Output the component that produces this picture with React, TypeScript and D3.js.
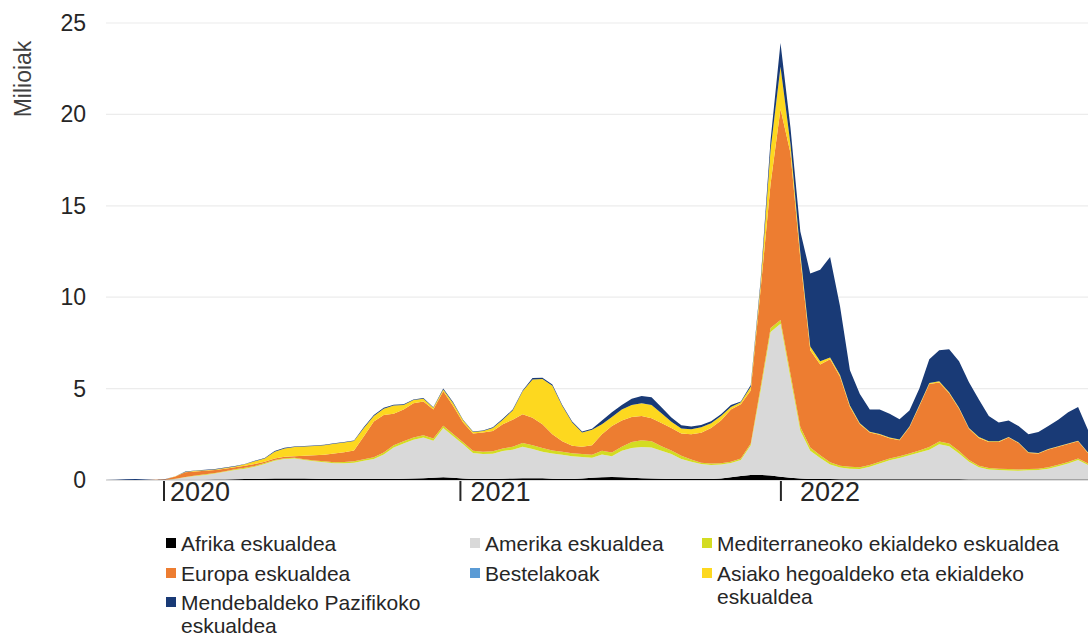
import React from 'react';
import * as d3 from 'd3';

// Weekly new cases (millions) by WHO region
const seriesNames = [
  'Afrika eskualdea',
  'Amerika eskualdea',
  'Mediterraneoko ekialdeko eskualdea',
  'Europa eskualdea',
  'Bestelakoak',
  'Asiako hegoaldeko eta ekialdeko eskualdea',
  'Mendebaldeko Pazifikoko eskualdea',
];

const afrika = [
  0, 0, 0, 0, 0, 0, 0.01, 0.01, 0.01, 0.01,
  0.02, 0.03, 0.03, 0.04, 0.05, 0.06, 0.07, 0.08, 0.08, 0.08,
  0.08, 0.07, 0.06, 0.05, 0.05, 0.05, 0.05, 0.05, 0.06, 0.06,
  0.07, 0.08, 0.1, 0.12, 0.15, 0.12, 0.08, 0.06, 0.06, 0.06,
  0.07, 0.08, 0.09, 0.1, 0.09, 0.07, 0.06, 0.06, 0.08, 0.12,
  0.15, 0.16, 0.15, 0.12, 0.09, 0.08, 0.07, 0.06, 0.06, 0.06,
  0.06, 0.06, 0.08, 0.15, 0.22, 0.27, 0.28, 0.25, 0.18, 0.12,
  0.08, 0.06, 0.05, 0.05, 0.04, 0.04, 0.04, 0.04, 0.04, 0.04,
  0.04, 0.04, 0.04, 0.04, 0.04, 0.04, 0.04, 0.03, 0.03, 0.03,
  0.03, 0.03, 0.03, 0.03, 0.03, 0.03, 0.03, 0.03, 0.03, 0.03,
];

const amerika = [
  0, 0, 0, 0, 0, 0, 0.01, 0.05, 0.14, 0.21,
  0.26, 0.32, 0.42, 0.51, 0.57, 0.66, 0.81, 0.97, 1.07, 1.1,
  1.02, 0.96, 0.91, 0.87, 0.87, 0.9, 1.0, 1.1, 1.34, 1.72,
  1.93, 2.12, 2.23, 2.03, 2.7, 2.28, 1.87, 1.42, 1.36, 1.38,
  1.51, 1.58, 1.73, 1.6, 1.46, 1.38, 1.32, 1.24, 1.18, 1.1,
  1.25, 1.14, 1.45, 1.63, 1.71, 1.7, 1.53, 1.36, 1.09, 0.94,
  0.82, 0.76, 0.77, 0.78, 0.88, 1.63, 4.62, 7.85, 8.37, 5.48,
  2.62, 1.54, 1.15, 0.8, 0.64, 0.58, 0.56, 0.69, 0.86, 1.04,
  1.16, 1.31, 1.46, 1.61, 1.91, 1.81, 1.41, 0.97, 0.67, 0.55,
  0.52, 0.49, 0.48, 0.5, 0.52, 0.59, 0.72, 0.87, 1.07, 0.79,
];

const mediterraneo = [
  0, 0, 0, 0, 0, 0, 0, 0.01, 0.02, 0.03,
  0.03, 0.03, 0.03, 0.04, 0.05, 0.05, 0.05, 0.04, 0.04, 0.04,
  0.04, 0.04, 0.05, 0.05, 0.06, 0.07, 0.08, 0.1, 0.1, 0.12,
  0.12, 0.12, 0.12, 0.12, 0.12, 0.12, 0.12, 0.12, 0.13, 0.13,
  0.14, 0.16, 0.2, 0.2, 0.2, 0.17, 0.17, 0.17, 0.16, 0.16,
  0.2, 0.2, 0.22, 0.33, 0.38, 0.34, 0.25, 0.2, 0.17, 0.12,
  0.07, 0.08, 0.07, 0.07, 0.08, 0.1, 0.2, 0.22, 0.2, 0.22,
  0.2, 0.18, 0.15, 0.12, 0.1, 0.1, 0.1, 0.09, 0.1, 0.1,
  0.1, 0.1, 0.12, 0.15, 0.15, 0.15, 0.13, 0.1, 0.08, 0.07,
  0.07, 0.08, 0.07, 0.07, 0.07, 0.08, 0.08, 0.08, 0.08, 0.08,
];

const europa = [
  0, 0, 0, 0, 0, 0.01, 0.02, 0.12, 0.25, 0.22,
  0.19, 0.17, 0.14, 0.11, 0.11, 0.11, 0.07, 0.08, 0.08, 0.08,
  0.19, 0.28, 0.36, 0.48, 0.54, 0.6, 1.27, 1.95, 2.05, 1.72,
  1.73, 1.88, 1.85, 1.58, 1.88, 1.53, 1.08, 0.95, 1.05, 1.11,
  1.33, 1.48, 1.58, 1.5, 1.3, 0.88, 0.57, 0.41, 0.4, 0.52,
  0.9, 1.45, 1.43, 1.37, 1.32, 1.26, 1.27, 1.23, 1.23, 1.38,
  1.64, 1.95, 2.33, 2.85, 2.97, 2.9, 5.35, 7.88, 11.55, 12.08,
  9.2, 5.32, 4.97, 5.63, 4.87, 3.28, 2.35, 1.78, 1.48, 1.1,
  0.88, 1.43, 2.43, 3.45, 3.23, 2.75, 2.32, 1.7, 1.52, 1.43,
  1.46, 1.72, 1.44, 0.88, 0.83, 0.97, 0.99, 0.99, 0.94, 0.56,
];

const bestelakoak = [
  0, 0, 0.002, 0.003, 0.002, 0, 0, 0, 0, 0,
  0, 0, 0, 0, 0, 0, 0, 0, 0, 0,
  0, 0, 0, 0, 0, 0, 0, 0, 0, 0,
  0, 0, 0, 0, 0, 0, 0, 0, 0, 0,
  0, 0, 0, 0, 0, 0, 0, 0, 0, 0,
  0, 0, 0, 0, 0, 0, 0, 0, 0, 0,
  0, 0, 0, 0, 0, 0, 0, 0, 0, 0,
  0, 0, 0, 0, 0, 0, 0, 0, 0, 0,
  0, 0, 0, 0, 0, 0, 0, 0, 0, 0,
  0, 0, 0, 0, 0, 0, 0, 0, 0, 0,
];

const asia = [
  0, 0, 0, 0, 0, 0, 0, 0.01, 0.02, 0.03,
  0.04, 0.03, 0.04, 0.04, 0.08, 0.14, 0.17, 0.38, 0.45, 0.5,
  0.5, 0.51, 0.52, 0.53, 0.53, 0.51, 0.45, 0.3, 0.35, 0.46,
  0.25, 0.17, 0.15, 0.1, 0.1, 0.15, 0.12, 0.07, 0.08, 0.17,
  0.25, 0.5, 1.25, 2.1, 2.47, 2.65, 1.93, 1.27, 0.78, 0.85,
  0.55, 0.5, 0.6, 0.65, 0.7, 0.72, 0.53, 0.33, 0.27, 0.28,
  0.29, 0.25, 0.25, 0.15, 0.1, 0.2, 0.3, 1.9, 2.3, 0.5,
  0.3, 0.2, 0.18, 0.1, 0.1, 0.08, 0.05, 0.04, 0.04, 0.04,
  0.04, 0.04, 0.05, 0.05, 0.07, 0.05, 0.05, 0.05, 0.05, 0.04,
  0.04, 0.03, 0.03, 0.04, 0.03, 0.03, 0.03, 0.03, 0.03, 0.04,
];

const pazifiko = [
  0, 0.02, 0.04, 0.05, 0.03, 0.01, 0.01, 0.01, 0.02, 0.02,
  0.02, 0.02, 0.02, 0.02, 0.02, 0.03, 0.03, 0.03, 0.04, 0.03,
  0.03, 0.03, 0.03, 0.03, 0.03, 0.03, 0.05, 0.05, 0.05, 0.04,
  0.04, 0.03, 0.03, 0.03, 0.05, 0.05, 0.03, 0.03, 0.03, 0.03,
  0.05, 0.05, 0.05, 0.08, 0.08, 0.07, 0.05, 0.05, 0.05, 0.05,
  0.2, 0.25, 0.25, 0.35, 0.4, 0.43, 0.33, 0.24, 0.18, 0.14,
  0.13, 0.12, 0.1, 0.1, 0.05, 0.1, 0.2, 0.5, 1.3, 0.9,
  1.2, 4.0, 5.0, 5.5, 3.75, 1.92, 1.6, 1.21, 1.33, 1.3,
  1.11, 0.88, 0.9, 1.3, 1.7, 2.35, 2.55, 2.5, 2.05, 1.38,
  1.03, 0.9, 0.9, 0.98, 1.14, 1.25, 1.45, 1.7, 1.85, 1.24,
];

const seriesValues = [afrika, amerika, mediterraneo, europa, bestelakoak, asia, pazifiko];
const seriesColors = ['#000000', '#d9d9d9', '#d3dc22', '#ed7d31', '#5b9bd5', '#fdd81f', '#193a76'];

const yTicks = [0, 5, 10, 15, 20, 25];
const yearLabels = ['2020', '2021', '2022'];
const yearTickIndex = [5.85, 35.73, 68.04];

const W = 1088;
const H = 636;
const FONT = '"Liberation Sans", Arial, Helvetica, sans-serif';

export default function App() {
  const n = afrika.length;
  const rows = d3.range(n).map((i) => {
    const r: Record<string, number> = { i };
    seriesNames.forEach((name, s) => {
      r[name] = seriesValues[s][i];
    });
    return r;
  });

  const stack = d3.stack<Record<string, number>>().keys(seriesNames).order(d3.stackOrderNone).offset(d3.stackOffsetNone);
  const layers = stack(rows);

  const x = d3.scaleLinear().domain([0, n - 1]).range([106, 1088]);
  const y = d3.scaleLinear().domain([0, 25]).range([480, 23]);

  const area = d3
    .area<any>()
    .x((d: any) => x(d.data.i))
    .y0((d: any) => y(d[0]))
    .y1((d: any) => y(d[1]))
    .curve(d3.curveLinear);

  const labelOffsets = [6, 10, 19];

  const legendItems = [
    { s: 0, x: 166, y: 543, lines: ['Afrika eskualdea'] },
    { s: 1, x: 470, y: 543, lines: ['Amerika eskualdea'] },
    { s: 2, x: 702, y: 543, lines: ['Mediterraneoko ekialdeko eskualdea'] },
    { s: 3, x: 166, y: 573, lines: ['Europa eskualdea'] },
    { s: 4, x: 470, y: 573, lines: ['Bestelakoak'] },
    { s: 5, x: 702, y: 573, lines: ['Asiako hegoaldeko eta ekialdeko', 'eskualdea'] },
    { s: 6, x: 166, y: 602, lines: ['Mendebaldeko Pazifikoko', 'eskualdea'] },
  ];

  return (
    <svg
      width={W}
      height={H}
      viewBox={`0 0 ${W} ${H}`}
      style={{ position: 'absolute', left: 0, top: 0, background: '#ffffff', fontFamily: FONT }}
    >
      <rect x={0} y={0} width={W} height={H} fill="#ffffff" />
      {yTicks.filter((t) => t > 0).map((t) => (
        <line key={'g' + t} x1={106} x2={W} y1={y(t)} y2={y(t)} stroke="#ececec" strokeWidth={1.2} />
      ))}
      <line x1={106} x2={W} y1={y(0)} y2={y(0)} stroke="#bdbdbd" strokeWidth={1.2} />
      {layers.map((layer, s) => (
        <path key={layer.key} d={area(layer as any) || ''} fill={seriesColors[s]} stroke="none" />
      ))}
      {yTicks.map((t) => (
        <text
          key={'t' + t}
          x={86}
          y={y(t)}
          textAnchor="end"
          dominantBaseline="central"
          fontSize={23}
          fill="#262626"
        >
          {t}
        </text>
      ))}
      <text
        transform={`translate(23,79) rotate(-90)`}
        textAnchor="middle"
        dominantBaseline="central"
        fontSize={23}
        fill="#404040"
      >
        Milioiak
      </text>
      {yearLabels.map((lab, i) => {
        const tx = x(yearTickIndex[i]);
        return (
          <g key={lab}>
            <line x1={tx} x2={tx} y1={481} y2={501} stroke="#262626" strokeWidth={2} />
            <text x={tx + labelOffsets[i]} y={501} fontSize={27} fill="#262626">
              {lab}
            </text>
          </g>
        );
      })}
      {legendItems.map((it) => (
        <g key={'l' + it.s}>
          <rect x={it.x} y={it.y - 5} width={10} height={10} fill={seriesColors[it.s]} />
          {it.lines.map((ln, j) => (
            <text
              key={j}
              x={it.x + 15}
              y={it.y + j * 23}
              dominantBaseline="central"
              fontSize={21}
              fill="#262626"
            >
              {ln}
            </text>
          ))}
        </g>
      ))}
    </svg>
  );
}
